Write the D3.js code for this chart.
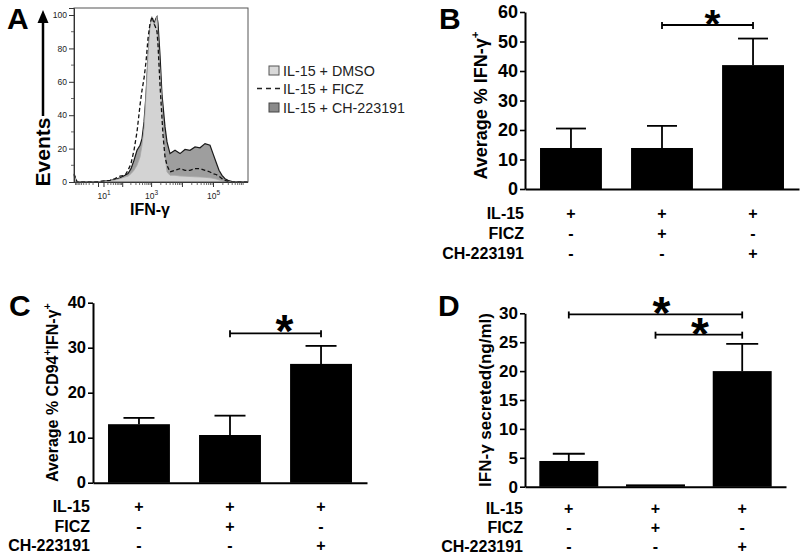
<!DOCTYPE html>
<html><head><meta charset="utf-8">
<script src="https://cdn.jsdelivr.net/npm/d3@7"></script>
<style>body{margin:0;background:#fff}svg{display:block;font-family:"Liberation Sans",Arial,Helvetica,sans-serif}</style>
</head><body><svg id="c" width="800" height="556"></svg>
<script>
// ---------- Panel A: flow histogram (intensity, % of max) ----------
const histX = [-103,-78,-17.5,2.35,26.9,47.9,78.3,122,158,202,257,326,413,482,562,655,763,888,1032,1200,1395,1504,1621,1883,2187,2357,2737,3177,3972,5760,8358,12112,17552,25428,36832,53340,77260,96460,120480,150420,187840,234560,292940,395020,1289000];
const histDMSO = [4,0,0,0.3,0.8,1.2,2,3,3.5,5,7,10,15,22,32,52,76,93,99,94,97,99,86,66,46,34,16,6,4,4,3.6,3.5,3.3,3.1,3,2.8,2.5,2.2,1.8,1.2,0.8,0.4,0.2,0,0];
const histFICZ = [5,0,0,0.3,1,2,3.5,4,7,11,19,30,46,55,62,72,86,95,99,95,92,90,82,58,38,28,15,10,6,7,8,7,7,8,8,7,6,5,4.5,3.5,2,1,0.4,0,0];
const histCH   = [4,0,0,0.3,1,1.5,2.5,4,5,8,13,19,22,26,36,52,74,92,98,95,98,99,95,76,52,46,33,24,17,19,17,19.5,19,21,20.5,23,22,17,12,7,4,2,1,0.2,0];
const histSeries = ["IL-15 + DMSO","IL-15 + FICZ","IL-15 + CH-223191"];
const histYTicks = [0,20,40,60,80,100];
const histXTickExp = [1,3,5];

// ---------- Bar panels ----------
const conditions = ["DMSO","FICZ","CH-223191"];
const rowLabels = ["IL-15","FICZ","CH-223191"];
const rowSigns = [["+","+","+"],["-","+","-"],["-","-","+"]];

const bMeans = [13.9,13.9,42.0];
const bSem   = [6.6,7.5,9.0];
const bTicks = [0,10,20,30,40,50,60];

const cMeans = [13.0,10.6,26.4];
const cSem   = [1.4,4.3,4.0];
const cTicks = [0,10,20,30,40];

const dMeans = [4.45,0.4,20.0];
const dSem   = [1.25,0,4.7];
const dTicks = [0,5,10,15,20,25,30];

const svg = d3.select("#c");
const FONT = '"Liberation Sans",Arial,Helvetica,sans-serif';

// ================= Panel A =================
(function(){
  const x = d3.scaleSymlog().constant(20).domain([-103,1289000]).range([74,248]);
  const y = d3.scaleLinear().domain([0,104.2]).range([182,8]);
  const g = svg.append("g");
  const pts = s => histX.map((v,i)=>[v,s[i]]);
  const area = d3.area().x(d=>x(d[0])).y0(y(0)).y1(d=>y(d[1]));
  const line = d3.line().x(d=>x(d[0])).y(d=>y(d[1]));
  g.append("path").attr("d",area(pts(histCH))).attr("fill","#9e9e9e");
  g.append("path").attr("d",line(pts(histCH))).attr("fill","none").attr("stroke","#1a1a1a").attr("stroke-width",1.2);
  g.append("path").attr("d",area(pts(histDMSO))).attr("fill","#d3d3d3");
  g.append("path").attr("d",line(pts(histDMSO))).attr("fill","none").attr("stroke","#a8a8a8").attr("stroke-width",0.8);
  g.append("path").attr("d",line(pts(histFICZ))).attr("fill","none").attr("stroke","#111").attr("stroke-width",1.3).attr("stroke-dasharray","4,2.5");
  g.append("rect").attr("x",74).attr("y",8).attr("width",174).attr("height",174)
    .attr("fill","none").attr("stroke","#555").attr("stroke-width",1);
  const ya = d3.axisLeft(y).tickValues(histYTicks).tickSize(5).tickPadding(2);
  const yg = g.append("g").attr("transform","translate(74,0)").call(ya);
  yg.select(".domain").attr("stroke","#333");
  yg.selectAll("text").attr("font-size",8.5).attr("font-family",FONT).attr("fill","#222");
  yg.selectAll("line").attr("stroke","#333");
  d3.range(10,101,20).forEach(v=>{
    g.append("line").attr("x1",71).attr("x2",74).attr("y1",y(v)).attr("y2",y(v)).attr("stroke","#444").attr("stroke-width",0.8);
  });
  g.append("line").attr("x1",74).attr("x2",248).attr("y1",182.5).attr("y2",182.5).attr("stroke","#333").attr("stroke-width",1.2);
  const majors = [0,10,100,1000,10000,100000];
  majors.forEach(v=>{
    g.append("line").attr("x1",x(v)).attr("x2",x(v)).attr("y1",182).attr("y2",187).attr("stroke","#333").attr("stroke-width",1);
  });
  const minors = [];
  [-90,-80,-70,-60,-50,-40,-30,-20,-10].forEach(v=>minors.push(v));
  for(let e=1;e<=5;e++) for(let k=2;k<=9;k++) minors.push(k*Math.pow(10,e));
  minors.filter(v=>x(v)<=248).forEach(v=>{
    g.append("line").attr("x1",x(v)).attr("x2",x(v)).attr("y1",182).attr("y2",185).attr("stroke","#444").attr("stroke-width",0.8);
  });
  histXTickExp.forEach(e=>{
    const t = g.append("text").attr("x",x(Math.pow(10,e))).attr("y",199).attr("text-anchor","middle")
      .attr("font-size",8.5).attr("fill","#222");
    t.append("tspan").text("10");
    t.append("tspan").attr("dy",-4).attr("font-size",6.5).text(e);
  });
  g.append("text").attr("x",150).attr("y",215).attr("text-anchor","middle").attr("font-weight","bold").attr("font-size",16).text("IFN-γ");
  g.append("text").attr("transform","translate(50,152) rotate(-90)").attr("text-anchor","middle")
    .attr("font-weight","bold").attr("font-size",21).text("Events");
  g.append("line").attr("x1",43).attr("x2",43).attr("y1",116).attr("y2",20).attr("stroke","#000").attr("stroke-width",2.5);
  g.append("path").attr("d","M43,10 L48.5,23 L37.5,23 Z").attr("fill","#000");
  g.append("text").attr("x",7).attr("y",29).attr("font-weight","bold").attr("font-size",30).text("A");
  const lg = g.append("g").attr("font-size",14.3).attr("fill","#222");
  lg.append("rect").attr("x",269).attr("y",66).attr("width",10).attr("height",9).attr("fill","#d9d9d9").attr("stroke","#555").attr("stroke-width",1);
  lg.append("text").attr("x",283).attr("y",75.5).text(histSeries[0]);
  lg.append("line").attr("x1",257).attr("x2",281).attr("y1",88.5).attr("y2",88.5).attr("stroke","#222").attr("stroke-width",1.6).attr("stroke-dasharray","5,4");
  lg.append("text").attr("x",283).attr("y",93.5).text(histSeries[1]);
  lg.append("rect").attr("x",269).attr("y",103).attr("width",10).attr("height",9).attr("fill","#8a8a8a").attr("stroke","#444").attr("stroke-width",1);
  lg.append("text").attr("x",283).attr("y",112.5).text(histSeries[2]);
})();

// ================= Bar panels =================
function barPanel(o){
  const g = svg.append("g");
  const x = d3.scaleBand().domain(conditions).range([o.x0,o.x1]).paddingInner(0.32).paddingOuter(0.165);
  const y = d3.scaleLinear().domain([0,o.max]).range([o.yb,o.yt]);
  g.selectAll(".bar").data(o.means).join("rect")
    .attr("x",(d,i)=>x(conditions[i])).attr("width",x.bandwidth())
    .attr("y",d=>y(d)).attr("height",d=>y(0)-y(d)).attr("fill","#000");
  o.means.forEach((m,i)=>{
    if(!o.sem[i]) return;
    const cx = x(conditions[i])+x.bandwidth()/2;
    g.append("line").attr("x1",cx).attr("x2",cx).attr("y1",y(m)).attr("y2",y(m+o.sem[i])).attr("stroke","#000").attr("stroke-width",1.8);
    g.append("line").attr("x1",cx-o.cap).attr("x2",cx+o.cap).attr("y1",y(m+o.sem[i])).attr("y2",y(m+o.sem[i])).attr("stroke","#000").attr("stroke-width",1.8);
  });
  const ya = d3.axisLeft(y).tickValues(o.ticks).tickSize(5).tickSizeOuter(0).tickPadding(2);
  const yg = g.append("g").attr("transform",`translate(${o.x0},0)`).call(ya);
  yg.select(".domain").attr("stroke-width",2);
  yg.selectAll(".tick line").attr("stroke-width",1.6);
  yg.selectAll("text").attr("font-size",o.tickFs).attr("font-weight","bold").attr("font-family",FONT).attr("fill","#000");
  const xa = d3.axisBottom(x).tickSize(0).tickSizeOuter(0).tickFormat("");
  const xg = g.append("g").attr("transform",`translate(0,${o.yb})`).call(xa);
  xg.select(".domain").attr("stroke-width",2);
  rowLabels.forEach((lab,r)=>{
    g.append("text").attr("x",o.rowX).attr("y",o.rowY[r]).attr("text-anchor","end").attr("font-weight","bold").attr("font-size",o.rowFs).text(lab);
    rowSigns[r].forEach((s,i)=>{
      g.append("text").attr("x",x(conditions[i])+x.bandwidth()/2).attr("y",o.rowY[r]).attr("text-anchor","middle")
        .attr("font-weight","bold").attr("font-size",o.rowFs).text(s);
    });
  });
  o.brackets.forEach(b=>{
    const xa1 = x(conditions[b.from])+x.bandwidth()/2, xa2 = x(conditions[b.to])+x.bandwidth()/2, yy = y(b.at);
    g.append("line").attr("x1",xa1).attr("x2",xa2).attr("y1",yy).attr("y2",yy).attr("stroke","#000").attr("stroke-width",1.8);
    [xa1,xa2].forEach(xx=>g.append("line").attr("x1",xx).attr("x2",xx).attr("y1",yy-3).attr("y2",yy+4).attr("stroke","#000").attr("stroke-width",1.8));
    g.append("text").attr("x",(xa1+xa2)/2+b.dx).attr("y",yy+b.dy).attr("text-anchor","middle").attr("font-weight","bold").attr("font-size",b.fs||o.starFs).text("*");
  });
  const t = g.append("text").attr("transform",`translate(${o.labX},${(o.yb+o.yt)/2+o.labDy}) rotate(-90)`).attr("text-anchor","middle")
    .attr("font-weight","bold").attr("font-size",o.labFs);
  o.label.forEach(p=>{
    if(p.sup) t.append("tspan").attr("dy",-o.labFs*0.45).attr("font-size",o.labFs*0.65).text(p.t);
    else t.append("tspan").attr("dy",p.after?o.labFs*0.45:0).text(p.t);
  });
  g.append("text").attr("x",o.letX).attr("y",o.letY).attr("font-weight","bold").attr("font-size",30).text(o.letter);
}

barPanel({x0:525,x1:799,yb:189,yt:12,max:60,ticks:bTicks,means:bMeans,sem:bSem,cap:15,tickFs:18,
  rowX:524,rowY:[219,239,259],rowFs:16,
  brackets:[{from:1,to:2,at:55.6,dx:5,dy:13,fs:41}],starFs:41,
  label:[{t:"Average % IFN-γ"},{t:"+",sup:true}],labX:487,labDy:5,labFs:18,letter:"B",letX:439,letY:29});

barPanel({x0:93,x1:367,yb:482.7,yt:302.7,max:40,ticks:cTicks,means:cMeans,sem:cSem,cap:15.5,tickFs:16.5,
  rowX:90,rowY:[512,532,551],rowFs:16,
  brackets:[{from:1,to:2,at:33.2,dx:9,dy:14}],starFs:46,
  label:[{t:"Average % CD94"},{t:"+",sup:true},{t:"IFN-γ",after:true},{t:"+",sup:true}],labX:58,labDy:0,labFs:16,letter:"C",letX:9,letY:316});

barPanel({x0:525,x1:786,yb:486.7,yt:313.3,max:30,ticks:dTicks,means:dMeans,sem:dSem,cap:16,tickFs:17,
  rowX:523,rowY:[514,533,552],rowFs:16,
  brackets:[{from:0,to:2,at:29.8,dx:6,dy:15},{from:1,to:2,at:26.3,dx:1,dy:15}],starFs:46,
  label:[{t:"IFN-γ secreted(ng/ml)"}],labX:491,labDy:0,labFs:17,letter:"D",letX:438,letY:316});
</script></body></html>
